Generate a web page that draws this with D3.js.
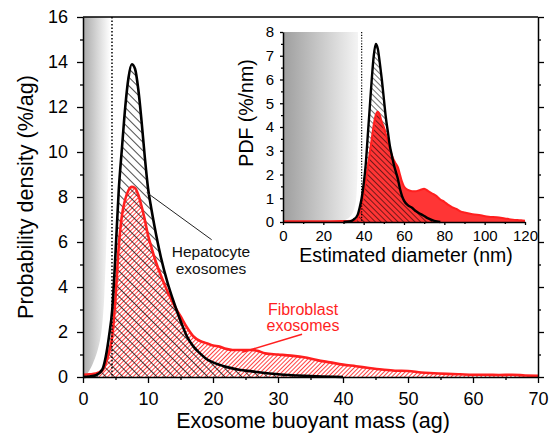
<!DOCTYPE html>
<html lang="en">
<head>
  <meta charset="UTF-8">
  <title>exosome mass</title>
  <script src="https://cdn.jsdelivr.net/npm/d3@7/dist/d3.min.js"></script>
  <style>
    body { margin: 0; background: #fff; }
    text { font-family: "Liberation Sans", Arial, Helvetica, sans-serif; }
  </style>
</head>
<body>
  <svg width="556" height="440"></svg>
  <script>
    // main plot: buoyant mass (ag) vs probability density (%/ag)
    var hepMassX = [0, 1, 2, 3, 3.5, 4, 4.5, 5, 5.5, 6, 6.5, 7, 7.5, 8, 8.5, 9, 9.5, 10, 10.5, 11, 12, 13, 14, 15, 16, 17, 18, 19, 20, 22, 24, 26, 28, 30, 33, 36, 40]
    var hepMassY = [0, 0.02, 0.08, 0.35, 0.9, 1.8, 3.0, 5.5, 8.3, 10.2, 12.0, 13.3, 13.9, 13.7, 12.8, 11.4, 9.8, 8.4, 7.5, 6.7, 5.3, 4.2, 3.3, 2.5, 1.8, 1.35, 1.05, 0.8, 0.65, 0.45, 0.32, 0.25, 0.18, 0.12, 0.07, 0.03, 0]
    var fibMassX = [0, 1, 2, 3, 3.5, 4, 4.5, 5, 5.5, 6, 6.5, 7, 7.5, 8, 8.5, 9, 9.5, 10, 10.5, 11, 12, 13, 14, 15, 16, 17, 18, 19, 20, 21, 22, 23, 24, 25, 26, 27, 28, 30, 32, 34, 36, 38, 40, 42, 44, 46, 48, 50, 52, 54, 56, 58, 60, 62, 64, 66, 68, 70]
    var fibMassY = [0.1, 0.12, 0.15, 0.3, 0.6, 1.1, 1.8, 3.5, 5.8, 7.2, 7.9, 8.3, 8.45, 8.4, 8.1, 7.6, 7.0, 6.3, 5.8, 5.3, 4.5, 3.8, 3.2, 2.7, 2.2, 1.8, 1.6, 1.5, 1.4, 1.35, 1.25, 1.2, 1.2, 1.2, 1.2, 1.15, 1.05, 1.0, 0.95, 0.88, 0.75, 0.65, 0.55, 0.48, 0.4, 0.33, 0.28, 0.27, 0.2, 0.17, 0.14, 0.12, 0.1, 0.1, 0.09, 0.1, 0.07, 0.05]
    // edge of the shaded (below detection) region, mass vs density
    var limitMassX = [0.3, 1.0, 1.8, 2.6, 3.1, 3.4, 3.8, 4.2]
    var limitMassY = [0, 0.3, 0.8, 1.6, 2.8, 4.5, 8, 16]
    var limitMass = 4.46
    var massTicks = [0, 10, 20, 30, 40, 50, 60, 70]
    var densTicks = [0, 2, 4, 6, 8, 10, 12, 14, 16]

    // inset: estimated diameter (nm) vs PDF (%/nm)
    var hepDiamX = [30, 33, 35, 37, 38, 39, 40, 41, 42, 43, 44, 45, 46, 47, 48, 49, 50, 51, 52, 53, 54, 55, 56, 57, 58, 59, 60, 62, 64, 66, 68, 70, 72, 75, 78]
    var hepDiamY = [0, 0.02, 0.1, 0.3, 0.6, 1.0, 1.6, 2.4, 3.6, 4.8, 6.0, 7.0, 7.5, 7.3, 6.7, 6.0, 5.2, 4.4, 3.8, 3.2, 2.8, 2.4, 2.1, 1.8, 1.4, 1.1, 0.9, 0.7, 0.6, 0.45, 0.35, 0.25, 0.15, 0.05, 0]
    var fibDiamX = [0, 10, 20, 30, 36, 38, 40, 42, 44, 45, 46, 47, 48, 49, 50, 51, 52, 53, 54, 55, 56, 57, 58, 59, 60, 62, 64, 66, 68, 70, 72, 74, 76, 78, 80, 82, 84, 86, 88, 90, 94, 98, 102, 106, 110, 114, 118, 120]
    var fibDiamY = [0.03, 0.03, 0.03, 0.04, 0.05, 0.4, 1.2, 2.3, 3.5, 4.1, 4.5, 4.64, 4.5, 4.2, 4.0, 3.7, 3.4, 3.1, 2.8, 2.6, 2.45, 2.3, 2.0, 1.7, 1.5, 1.35, 1.3, 1.3, 1.35, 1.4, 1.3, 1.2, 1.1, 0.95, 0.85, 0.72, 0.62, 0.55, 0.45, 0.4, 0.33, 0.28, 0.22, 0.2, 0.15, 0.1, 0.07, 0.05]
    var limitDiamX = [29, 33, 35.5, 36.5, 37, 37.2]
    var limitDiamY = [0, 0.2, 0.6, 1.2, 2.5, 8]
    var limitDiam = 39
    var diamTicks = [0, 20, 40, 60, 80, 100, 120]
    var pdfTicks = [0, 1, 2, 3, 4, 5, 6, 7, 8]

    var RED = '#ff1f1f'
    var svg = d3.select('svg')
    var zip = (a, b) => a.map((v, i) => [v, b[i]])

    var defs = svg.append('defs')
    function hatch(id, size, color, width, angle) {
      var p = defs.append('pattern')
        .attr('id', id)
        .attr('patternUnits', 'userSpaceOnUse')
        .attr('width', size).attr('height', size)
        .attr('patternTransform', `rotate(${angle})`)
      p.append('line')
        .attr('x1', 0).attr('y1', 0).attr('x2', 0).attr('y2', size)
        .attr('stroke', color).attr('stroke-width', width)
    }
    hatch('redHatch', 3, RED, 1.7, 45)
    hatch('blackHatch', 6, '#000', 1.4, -45)
    hatch('blackHatchSmall', 4, '#000', 1.1, -45)

    function grad(id, from, to) {
      var g = defs.append('linearGradient').attr('id', id)
        .attr('x1', 0).attr('x2', 1).attr('y1', 0).attr('y2', 0)
      g.append('stop').attr('offset', 0).attr('stop-color', from)
      g.append('stop').attr('offset', 1).attr('stop-color', to)
    }
    grad('greyMain', '#a9a9a9', '#ffffff')
    grad('greyInset', '#9e9e9e', '#f4f4f4')

    function styleAxis(g, size) {
      g.attr('font-size', size)
      g.selectAll('.domain').attr('stroke-width', 1.5)
      g.selectAll('.tick line').attr('stroke-width', 1.3)
      g.selectAll('.tick text').attr('fill', '#000')
    }

    // ---------- main plot ----------
    var x = d3.scaleLinear().domain([0, 70]).range([83, 538])
    var y = d3.scaleLinear().domain([0, 16]).range([377, 17])

    var area = d3.area().curve(d3.curveMonotoneX)
      .x(d => x(d[0])).y0(y(0)).y1(d => y(d[1]))
    var line = d3.line().curve(d3.curveMonotoneX)
      .x(d => x(d[0])).y(d => y(d[1]))

    svg.append('path')
      .datum(zip(limitMassX, limitMassY))
      .attr('fill', 'url(#greyMain)')
      .attr('d', d3.area().curve(d3.curveMonotoneY)
        .y(d => y(d[1])).x0(x(0)).x1(d => x(d[0])))

    var fib = zip(fibMassX, fibMassY)
    var hep = zip(hepMassX, hepMassY)
    svg.append('path').datum(fib).attr('fill', 'url(#redHatch)').attr('d', area)
    svg.append('path').datum(hep).attr('fill', 'url(#blackHatch)').attr('d', area)
    svg.append('path').datum(fib).attr('fill', 'none').attr('stroke', RED)
      .attr('stroke-width', 2.6).attr('stroke-linejoin', 'round').attr('d', line)
    svg.append('path').datum(hep).attr('fill', 'none').attr('stroke', '#000')
      .attr('stroke-width', 2.6).attr('stroke-linejoin', 'round').attr('d', line)

    svg.append('line')
      .attr('x1', x(limitMass)).attr('x2', x(limitMass))
      .attr('y1', y(16)).attr('y2', y(0))
      .attr('stroke', '#000').attr('stroke-width', 1.5).attr('stroke-dasharray', '1.5,2')

    // axes
    svg.append('g').attr('transform', `translate(0,${y(0)})`)
      .call(d3.axisBottom(x).tickValues(massTicks).tickSize(6).tickSizeOuter(0).tickPadding(9))
      .call(g => styleAxis(g, 18))
    svg.append('g').attr('transform', `translate(0,${y(0)})`)
      .call(d3.axisBottom(x).tickValues(d3.range(5, 70, 10)).tickSize(3).tickFormat(''))
      .call(g => g.select('.domain').remove())
      .call(g => styleAxis(g, 18))
    svg.append('g').attr('transform', `translate(${x(0)},0)`)
      .call(d3.axisLeft(y).tickValues(densTicks).tickSize(6).tickSizeOuter(0).tickPadding(9))
      .call(g => styleAxis(g, 18))
    svg.append('g').attr('transform', `translate(${x(0)},0)`)
      .call(d3.axisLeft(y).tickValues(d3.range(1, 16, 2)).tickSize(3).tickFormat(''))
      .call(g => g.select('.domain').remove())
      .call(g => styleAxis(g, 18))
    svg.append('g').attr('transform', `translate(${x(70)},0)`)
      .call(d3.axisRight(y).tickValues(densTicks).tickSize(6).tickSizeOuter(0).tickFormat(''))
      .call(g => styleAxis(g, 18))
    svg.append('g').attr('transform', `translate(${x(70)},0)`)
      .call(d3.axisRight(y).tickValues(d3.range(1, 16, 2)).tickSize(3).tickFormat(''))
      .call(g => g.select('.domain').remove())
      .call(g => styleAxis(g, 18))
    svg.append('line')
      .attr('x1', x(0)).attr('x2', x(70)).attr('y1', y(16)).attr('y2', y(16))
      .attr('stroke', '#000').attr('stroke-width', 1.5)

    svg.append('text')
      .attr('x', 313).attr('y', 428)
      .attr('text-anchor', 'middle').attr('font-size', 21.5)
      .text('Exosome buoyant mass (ag)')
    svg.append('text')
      .attr('transform', `translate(33,${(y(0) + y(16)) / 2}) rotate(-90)`)
      .attr('text-anchor', 'middle').attr('font-size', 21.5)
      .text('Probability density (%/ag)')

    // annotations
    svg.append('line')
      .attr('x1', x(9.8)).attr('y1', y(8.2)).attr('x2', x(19.8)).attr('y2', y(6.1))
      .attr('stroke', '#222').attr('stroke-width', 1)
    svg.append('text').attr('x', 211).attr('y', 257)
      .attr('text-anchor', 'middle').attr('font-size', 15.5).attr('fill', '#111')
      .selectAll('tspan').data(['Hepatocyte', 'exosomes']).enter().append('tspan')
      .attr('x', 211).attr('dy', (d, i) => i ? 16.5 : 0).text(d => d)
    svg.append('line')
      .attr('x1', x(24.5)).attr('y1', y(1.1)).attr('x2', x(33.7)).attr('y2', y(1.9))
      .attr('stroke', RED).attr('stroke-width', 1.5)
    svg.append('text').attr('x', 303).attr('y', 315)
      .attr('text-anchor', 'middle').attr('font-size', 16).attr('fill', RED)
      .selectAll('tspan').data(['Fibroblast', 'exosomes']).enter().append('tspan')
      .attr('x', 303).attr('dy', (d, i) => i ? 16 : 0).text(d => d)

    // ---------- inset ----------
    var xi = d3.scaleLinear().domain([0, 120]).range([283, 525])
    var yi = d3.scaleLinear().domain([0, 8]).range([222, 32])
    var areaI = d3.area().curve(d3.curveMonotoneX)
      .x(d => xi(d[0])).y0(yi(0)).y1(d => yi(d[1]))
    var lineI = d3.line().curve(d3.curveMonotoneX)
      .x(d => xi(d[0])).y(d => yi(d[1]))

    svg.append('path')
      .datum(zip(limitDiamX, limitDiamY))
      .attr('fill', 'url(#greyInset)')
      .attr('d', d3.area().curve(d3.curveMonotoneY)
        .y(d => yi(d[1])).x0(xi(0)).x1(d => xi(d[0])))

    var fibI = zip(fibDiamX, fibDiamY)
    var hepI = zip(hepDiamX, hepDiamY)
    svg.append('path').datum(fibI).attr('fill', RED).attr('opacity', 0.9).attr('d', areaI)
    svg.append('path').datum(hepI).attr('fill', 'url(#blackHatchSmall)').attr('d', areaI)
    svg.append('path').datum(fibI).attr('fill', 'none').attr('stroke', RED)
      .attr('stroke-width', 2).attr('d', lineI)
    svg.append('path').datum(hepI).attr('fill', 'none').attr('stroke', '#000')
      .attr('stroke-width', 2.4).attr('stroke-linejoin', 'round').attr('d', lineI)

    svg.append('line')
      .attr('x1', xi(limitDiam)).attr('x2', xi(limitDiam))
      .attr('y1', yi(8)).attr('y2', yi(0))
      .attr('stroke', '#000').attr('stroke-width', 1.2).attr('stroke-dasharray', '1.2,1.6')

    svg.append('g').attr('transform', `translate(0,${yi(0)})`)
      .call(d3.axisBottom(xi).tickValues(diamTicks).tickSize(3).tickSizeOuter(0).tickPadding(5))
      .call(g => styleAxis(g, 15))
    svg.append('g').attr('transform', `translate(0,${yi(0)})`)
      .call(d3.axisBottom(xi).tickValues(d3.range(10, 120, 20)).tickSize(2).tickFormat(''))
      .call(g => g.select('.domain').remove())
      .call(g => styleAxis(g, 15))
    svg.append('g').attr('transform', `translate(${xi(0)},0)`)
      .call(d3.axisLeft(yi).tickValues(pdfTicks).tickSize(3).tickSizeOuter(0).tickPadding(6))
      .call(g => styleAxis(g, 15))
    svg.append('g').attr('transform', `translate(${xi(0)},0)`)
      .call(d3.axisLeft(yi).tickValues(d3.range(0.5, 8, 1)).tickSize(2).tickFormat(''))
      .call(g => g.select('.domain').remove())
      .call(g => styleAxis(g, 15))

    svg.append('text')
      .attr('x', 406).attr('y', 262)
      .attr('text-anchor', 'middle').attr('font-size', 19.5)
      .text('Estimated diameter (nm)')
    svg.append('text')
      .attr('transform', 'translate(253,113) rotate(-90)')
      .attr('text-anchor', 'middle').attr('font-size', 19.5)
      .text('PDF (%/nm)')
  </script>
</body>
</html>
